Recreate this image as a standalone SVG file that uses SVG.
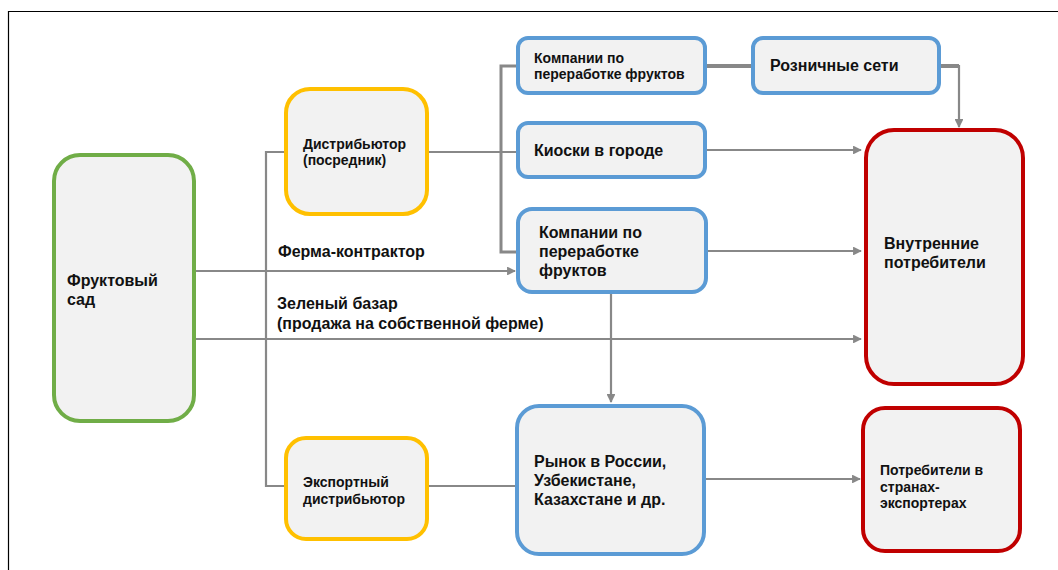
<svg xmlns="http://www.w3.org/2000/svg" width="1058" height="570" viewBox="0 0 1058 570">
<style>
.box{fill:#F2F2F2;stroke-width:4}
.g{stroke:#70AD47}.y{stroke:#FFC000}.b{stroke:#5B9BD5}.r{stroke:#C00000}
.c{fill:none;stroke:#888888;stroke-width:2.2}
.t{font-family:"Liberation Sans",Arial,sans-serif;font-weight:bold;fill:#111}
.f15{font-size:16px}.f13{font-size:14px}
</style>
<defs>
<marker id="ah" viewBox="0 0 10 10" refX="9" refY="5" markerWidth="4" markerHeight="4" orient="auto" markerUnits="strokeWidth">
<path d="M0,0 L10,5 L0,10 z" fill="#888888"/>
</marker>
</defs>
<rect x="0" y="0" width="1058" height="570" fill="#ffffff"/>
<path d="M8.5,570 V11.5 H1058" fill="none" stroke="#000" stroke-width="1.2"/>

<g id="connectors">
<path class="c" d="M194,271 H515" marker-end="url(#ah)"/>
<path class="c" d="M194,339 H861" marker-end="url(#ah)"/>
<path class="c" d="M285,152 H266 V486 H285"/>
<path class="c" d="M427,152 H517"/>
<path class="c" style="stroke-width:3" d="M517,66 H501 V252 H517"/>
<path class="c" style="stroke-width:4" d="M705,66 H752"/>
<path class="c" style="stroke-width:4" d="M939,66 H959"/>
<path class="c" d="M959,65 V127" marker-end="url(#ah)"/>
<path class="c" d="M705,150 H861" marker-end="url(#ah)"/>
<path class="c" d="M707,251 H861" marker-end="url(#ah)"/>
<path class="c" d="M611,293 V402" marker-end="url(#ah)"/>
<path class="c" d="M427,486 H516"/>
<path class="c" d="M704,479 H860" marker-end="url(#ah)"/>
</g>

<g id="labels">
<text class="t f15" x="278" y="257">Ферма-контрактор</text>
<text class="t f15" x="277" y="309">Зеленый базар</text>
<text class="t f15" x="277" y="329">(продажа на собственной ферме)</text>
</g>

<g id="sad">
<rect class="box g" x="54" y="155" width="140" height="266" rx="26"/>
<text class="t f15" x="67" y="286">Фруктовый</text>
<text class="t f15" x="67" y="305">сад</text>
</g>

<g id="distributor">
<rect class="box y" x="286" y="89" width="141" height="125" rx="24"/>
<text class="t f13" x="303" y="149">Дистрибьютор</text>
<text class="t f13" x="303" y="165">(посредник)</text>
</g>

<g id="export-distributor">
<rect class="box y" x="286" y="438" width="141" height="101" rx="20"/>
<text class="t f13" x="303" y="487">Экспортный</text>
<text class="t f13" x="303" y="504">дистрибьютор</text>
</g>

<g id="processing-top">
<rect class="box b" x="518" y="38" width="187" height="55" rx="10"/>
<text class="t f13" x="534" y="63">Компании по</text>
<text class="t f13" x="534" y="79">переработке фруктов</text>
</g>

<g id="retail">
<rect class="box b" x="753" y="38" width="186" height="55" rx="10"/>
<text class="t f15" x="770" y="71">Розничные сети</text>
</g>

<g id="kiosks">
<rect class="box b" x="518" y="123" width="187" height="54" rx="10"/>
<text class="t f15" x="534" y="156">Киоски в городе</text>
</g>

<g id="processing-mid">
<rect class="box b" x="518" y="209" width="188" height="83" rx="14"/>
<text class="t f15" x="539" y="238">Компании по</text>
<text class="t f15" x="539" y="257">переработке</text>
<text class="t f15" x="539" y="276">фруктов</text>
</g>

<g id="domestic">
<rect class="box r" x="866" y="130" width="157" height="254" rx="28"/>
<text class="t f15" x="884" y="249">Внутренние</text>
<text class="t f15" x="884" y="268">потребители</text>
</g>

<g id="market">
<rect class="box b" x="517" y="406" width="187" height="148" rx="22"/>
<text class="t f15" x="534" y="467">Рынок в России,</text>
<text class="t f15" x="534" y="486">Узбекистане,</text>
<text class="t f15" x="534" y="505">Казахстане и др.</text>
</g>

<g id="export-consumers">
<rect class="box r" x="863" y="408" width="157" height="143" rx="22"/>
<text class="t f13" x="880" y="475">Потребители в</text>
<text class="t f13" x="880" y="492">странах-</text>
<text class="t f13" x="880" y="508">экспортерах</text>
</g>
</svg>
